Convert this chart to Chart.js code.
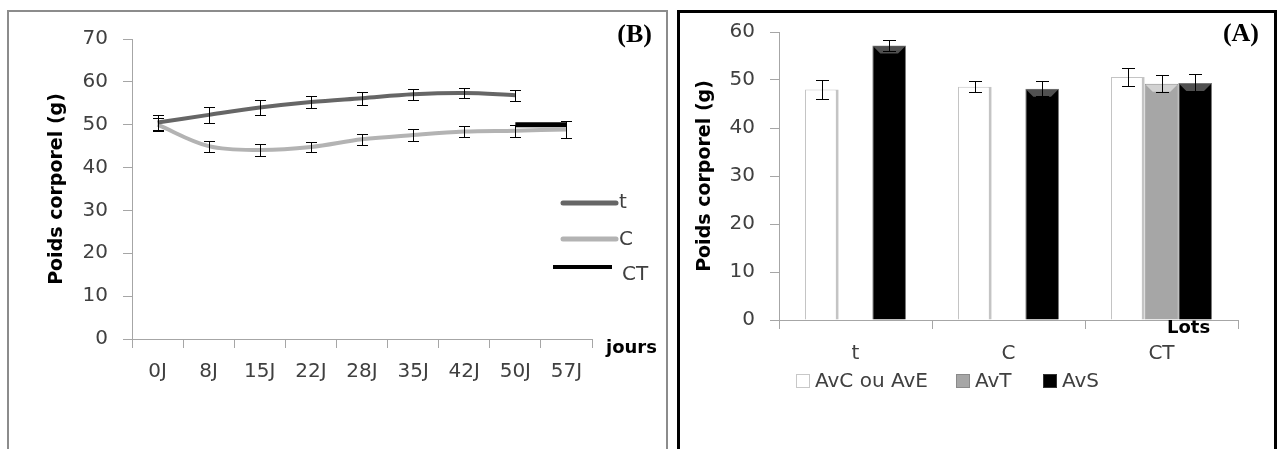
<!DOCTYPE html>
<html>
<head>
<meta charset="utf-8">
<script src="https://cdn.jsdelivr.net/npm/chart.js@4.4.0/dist/chart.umd.min.js"></script>
<style>
  html, body { margin: 0; padding: 0; background: #fff; width: 1277px; height: 449px; overflow: hidden; }
  #panelB { position: absolute; left: 7px; top: 10px; width: 657px; height: 470px; border: 2px solid #8c8c8c; }
  #panelA { position: absolute; left: 677px; top: 10px; width: 594px; height: 470px; border: 3px solid #000; }
  #cvB { position: absolute; left: 0; top: 0; }
  #cvA { position: absolute; left: 670px; top: 0; }
</style>
</head>
<body>
<div id="panelB"></div>
<div id="panelA"></div>
<canvas id="cvB" width="670" height="449"></canvas>
<canvas id="cvA" width="607" height="449"></canvas>
<script>
// (B) body weight over time
const days = ['0J', '8J', '15J', '22J', '28J', '35J', '42J', '50J', '57J'];
const tValues = [50.5, 52.3, 54, 55.3, 56.2, 57.1, 57.4, 56.9, null];
const tErrors = [1.8, 1.8, 1.7, 1.3, 1.5, 1.3, 1.2, 1.3, null];
const cValues = [50, 45, 44.1, 44.8, 46.6, 47.6, 48.4, 48.6, 48.9];
const cErrors = [1.5, 1.3, 1.5, 1.1, 1.3, 1.3, 1.2, 1.4, 1.9];
const ctValues = [null, null, null, null, null, null, null, 50, 50];

// (A) body weight per lot
const lots = ['t', 'C', 'CT'];
const avcValues = [48, 48.6, 50.6];
const avcErrors = [2, 1.2, 1.9];
const avtValues = [null, null, 49.2];
const avtErrors = [null, null, 1.8];
const avsValues = [57.2, 48.2, 49.4];
const avsErrors = [1.2, 1.6, 1.8];

const FONT = 'DejaVu Sans';
const TICK_COLOR = '#404040';
const AXIS_COLOR = '#a6a6a6';

// error bars for any dataset carrying an "errors" array
const errorBars = {
  id: 'errorBars',
  afterDatasetsDraw(chart, args, opts) {
    const ctx = chart.ctx;
    const y = chart.scales.y;
    ctx.save();
    ctx.strokeStyle = '#000';
    ctx.lineWidth = 1;
    chart.data.datasets.forEach((ds, di) => {
      if (!ds.errors) return;
      chart.getDatasetMeta(di).data.forEach((el, i) => {
        const v = ds.data[i], e = ds.errors[i];
        if (v == null || e == null) return;
        const x = Math.round(el.x) + 0.5;
        const top = Math.round(y.getPixelForValue(v + e)) + 0.5;
        const bot = Math.round(y.getPixelForValue(v - e)) + 0.5;
        const h = opts.cap / 2;
        ctx.beginPath();
        ctx.moveTo(x, top); ctx.lineTo(x, bot);
        ctx.moveTo(x - h, top); ctx.lineTo(x + h, top);
        ctx.moveTo(x - h, bot); ctx.lineTo(x + h, bot);
        ctx.stroke();
      });
    });
    ctx.restore();
  }
};

// plain text annotations (panel letter, axis names)
const notes = {
  id: 'notes',
  afterDraw(chart, args, opts) {
    const ctx = chart.ctx;
    ctx.save();
    ctx.textBaseline = 'middle';
    opts.items.forEach(n => {
      ctx.font = n.font;
      ctx.fillStyle = n.color || '#000';
      ctx.textAlign = n.align || 'left';
      ctx.fillText(n.text, n.x, n.y);
    });
    ctx.restore();
  }
};

// line legend for (B)
const lineLegend = {
  id: 'lineLegend',
  afterDraw(chart, args, opts) {
    const ctx = chart.ctx;
    ctx.save();
    ctx.textBaseline = 'middle';
    ctx.font = '20px ' + FONT;
    ctx.fillStyle = TICK_COLOR;
    chart.data.datasets.forEach((ds, i) => {
      const it = opts.items[i];
      ctx.strokeStyle = ds.borderColor;
      ctx.lineWidth = it.w;
      ctx.lineCap = i < 2 ? 'round' : 'butt';
      ctx.beginPath();
      ctx.moveTo(it.x0, it.y); ctx.lineTo(it.x1, it.y);
      ctx.stroke();
      ctx.fillText(ds.label, it.tx, it.ty);
    });
    ctx.restore();
  }
};

// box legend for (A)
const boxLegend = {
  id: 'boxLegend',
  afterDraw(chart, args, opts) {
    const ctx = chart.ctx;
    ctx.save();
    ctx.textBaseline = 'middle';
    ctx.font = '20px ' + FONT;
    chart.data.datasets.forEach((ds, i) => {
      const x = opts.xs[i], y = opts.y;
      ctx.fillStyle = ds.backgroundColor;
      ctx.fillRect(x, y - 7, 14, 14);
      ctx.strokeStyle = ds.legendEdge;
      ctx.lineWidth = 1;
      ctx.strokeRect(x + 0.5, y - 6.5, 13, 13);
      ctx.fillStyle = TICK_COLOR;
      ctx.fillText(ds.label, x + 19, y + 1);
    });
    ctx.restore();
  }
};

// little top bevel on the filled bars
const bevel = {
  id: 'bevel',
  afterDatasetsDraw(chart) {
    const ctx = chart.ctx;
    ctx.save();
    chart.data.datasets.forEach((ds, di) => {
      if (!ds.bevel) return;
      chart.getDatasetMeta(di).data.forEach((el, i) => {
        if (ds.data[i] == null) return;
        const l = el.x - el.width / 2 + 1, r = el.x + el.width / 2 - 1, t = el.y + 1;
        ctx.fillStyle = ds.bevel;
        ctx.beginPath();
        ctx.moveTo(l, t); ctx.lineTo(r, t);
        ctx.lineTo(r - 7, t + 7); ctx.lineTo(l + 7, t + 7);
        ctx.closePath();
        ctx.fill();
      });
    });
    ctx.restore();
  }
};

function yAxis(max, width) {
  return {
    min: 0, max: max,
    afterFit: s => { s.width = width; },
    ticks: { stepSize: 10, padding: 15, color: TICK_COLOR, font: { family: FONT, size: 20 } },
    grid: { drawOnChartArea: false, tickLength: 9, color: AXIS_COLOR },
    border: { color: AXIS_COLOR },
    title: {
      display: true, text: 'Poids corporel (g)', color: '#000',
      font: { family: FONT, size: 19, weight: 'bold' }
    }
  };
}

function xAxis(pad) {
  return {
    offset: true,
    afterFit: s => { s.height = 60; },
    ticks: { padding: pad, color: TICK_COLOR, maxRotation: 0, autoSkip: false, font: { family: FONT, size: 20 } },
    grid: { offset: true, drawOnChartArea: false, tickLength: 9, color: AXIS_COLOR },
    border: { color: AXIS_COLOR }
  };
}

const yB = yAxis(70, 92);
yB.title.padding = { top: 6, bottom: 0 };

new Chart(document.getElementById('cvB'), {
  type: 'line',
  data: {
    labels: days,
    datasets: [
      { label: 't', data: tValues, errors: tErrors, borderColor: '#666666', borderWidth: 4, tension: 0.35, pointRadius: 0 },
      { label: 'C', data: cValues, errors: cErrors, borderColor: '#b3b3b3', borderWidth: 4, tension: 0.35, pointRadius: 0 },
      { label: 'CT', data: ctValues, borderColor: '#000000', borderWidth: 5, borderCapStyle: 'butt', pointRadius: 0 }
    ]
  },
  options: {
    responsive: false,
    animation: false,
    layout: { padding: { left: 40, right: 78, top: 39, bottom: 50 } },
    scales: { x: xAxis(12), y: yB },
    plugins: {
      legend: { display: false },
      tooltip: { enabled: false },
      errorBars: { cap: 11 },
      lineLegend: {
        items: [
          { x0: 563, x1: 616, y: 203, w: 5, tx: 619, ty: 203 },
          { x0: 563, x1: 616, y: 239, w: 5, tx: 619, ty: 240 },
          { x0: 553, x1: 612, y: 267, w: 4, tx: 622, ty: 275 }
        ]
      },
      notes: {
        items: [
          { text: 'jours', x: 606, y: 348, font: 'bold 18px ' + FONT },
          { text: '(B)', x: 652, y: 35, align: 'right', font: 'bold 26px "Liberation Serif"' }
        ]
      }
    }
  },
  plugins: [errorBars, lineLegend, notes]
});

const yA = yAxis(60, 89);
yA.title.padding = { top: 4, bottom: 0 };

new Chart(document.getElementById('cvA'), {
  type: 'bar',
  data: {
    labels: lots,
    datasets: [
      { label: 'AvC ou AvE', data: avcValues, errors: avcErrors, backgroundColor: '#ffffff',
        borderColor: '#c4c4c4', borderWidth: { left: 1, right: 3, top: 1, bottom: 0 }, legendEdge: '#c8c8c8' },
      { label: 'AvT', data: avtValues, errors: avtErrors, backgroundColor: '#a6a6a6',
        borderColor: '#8f8f8f', borderWidth: 1, bevel: '#d2d2d2', legendEdge: '#8a8a8a' },
      { label: 'AvS', data: avsValues, errors: avsErrors, backgroundColor: '#000000',
        borderColor: '#7a7a7a', borderWidth: 1, bevel: '#505050', legendEdge: '#333333' }
    ]
  },
  options: {
    responsive: false,
    animation: false,
    categoryPercentage: 0.66,
    barPercentage: 1.0,
    layout: { padding: { left: 20, right: 39, top: 32, bottom: 69 } },
    scales: { x: xAxis(13), y: yA },
    plugins: {
      legend: { display: false },
      tooltip: { enabled: false },
      errorBars: { cap: 13 },
      boxLegend: { xs: [126, 286, 373], y: 381 },
      notes: {
        items: [
          { text: 'Lots', x: 497, y: 328, font: 'bold 18px ' + FONT },
          { text: '(A)', x: 589, y: 34, align: 'right', font: 'bold 26px "Liberation Serif"' }
        ]
      }
    }
  },
  plugins: [bevel, errorBars, boxLegend, notes]
});
</script>
</body>
</html>
